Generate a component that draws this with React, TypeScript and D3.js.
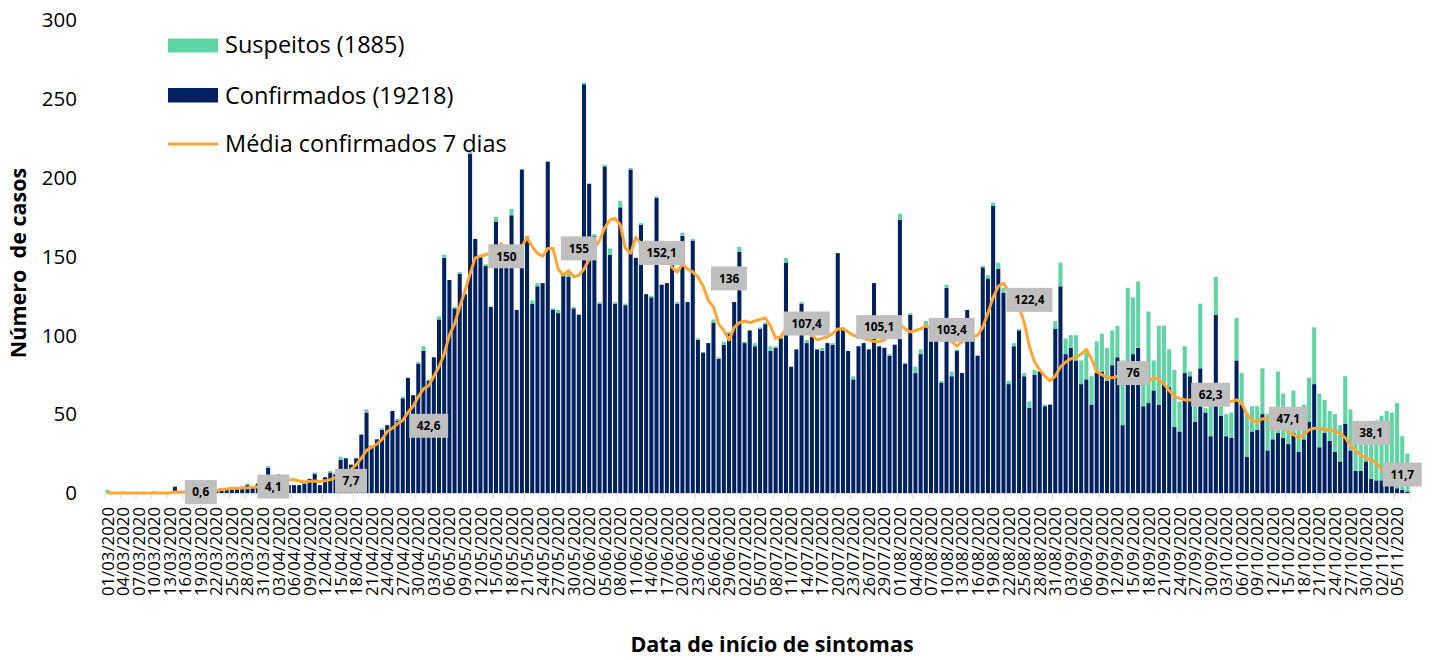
import React from 'react';
import * as d3 from 'd3';

// ---- data ----
const confirmed: number[] = [
  0, 0, 0, 0, 0, 0, 0, 0, 0, 0,
  0, 0, 0, 4, 0, 0, 0, 0, 0, 1,
  2, 2, 3, 2, 3, 3, 4, 5, 4, 6,
  5, 16, 5, 11, 6, 5, 5, 5, 6, 9,
  12, 5, 10, 13, 12, 21, 22, 18, 22, 37,
  51, 30, 34, 40, 43, 52, 46, 60, 73, 62,
  82, 90, 71, 86, 110, 149, 135, 117, 139, 126,
  215, 161, 150, 144, 118, 172, 150, 145, 176, 116,
  205, 162, 120, 131, 133, 210, 116, 114, 138, 137,
  117, 113, 259, 196, 163, 120, 207, 151, 120, 181,
  119, 205, 149, 170, 126, 124, 187, 132, 133, 150,
  120, 163, 121, 160, 97, 89, 95, 108, 85, 94,
  101, 121, 153, 95, 103, 93, 104, 107, 90, 92,
  98, 146, 80, 91, 120, 95, 99, 91, 90, 95,
  94, 152, 104, 90, 72, 93, 95, 91, 133, 93,
  92, 87, 94, 173, 82, 113, 76, 88, 106, 104,
  98, 70, 130, 74, 90, 76, 116, 100, 87, 143,
  136, 182, 142, 127, 69, 93, 103, 74, 54, 75,
  77, 55, 56, 104, 131, 88, 92, 84, 69, 72,
  56, 76, 77, 71, 81, 86, 43, 83, 88, 92,
  55, 57, 65, 56, 69, 67, 42, 39, 76, 74,
  45, 79, 51, 36, 113, 49, 36, 35, 84, 56,
  23, 39, 40, 50, 27, 34, 38, 35, 31, 38,
  26, 34, 45, 69, 29, 38, 33, 26, 20, 44,
  27, 14, 14, 20, 9, 8, 8, 6, 5, 3,
  2, 1,
];

const suspected: number[] = [
  2, 0, 0, 1, 0, 0, 0, 0, 0, 1,
  0, 0, 0, 0, 0, 0, 0, 0, 0, 0,
  0, 0, 0, 0, 1, 0, 0, 1, 0, 0,
  0, 1, 0, 1, 0, 0, 0, 0, 0, 0,
  1, 0, 0, 1, 0, 2, 0, 0, 0, 0,
  2, 0, 0, 1, 0, 0, 1, 1, 0, 0,
  1, 3, 1, 0, 2, 2, 0, 1, 1, 0,
  1, 0, 0, 1, 0, 3, 0, 0, 4, 0,
  0, 1, 2, 2, 0, 0, 1, 2, 0, 2,
  1, 0, 1, 0, 1, 1, 1, 4, 1, 4,
  1, 1, 0, 1, 0, 1, 1, 0, 0, 0,
  1, 2, 0, 1, 1, 0, 0, 2, 1, 2,
  1, 0, 3, 1, 0, 2, 1, 1, 3, 1,
  0, 3, 0, 0, 1, 2, 0, 0, 2, 0,
  1, 0, 1, 0, 2, 0, 0, 0, 0, 0,
  0, 1, 0, 4, 0, 1, 4, 3, 3, 0,
  0, 1, 2, 3, 1, 0, 0, 2, 0, 1,
  2, 2, 4, 3, 2, 2, 1, 2, 4, 3,
  0, 1, 0, 5, 15, 10, 8, 16, 15, 17,
  18, 20, 24, 21, 22, 20, 41, 47, 36, 42,
  20, 58, 19, 50, 37, 24, 36, 19, 17, 3,
  10, 41, 3, 19, 24, 6, 14, 16, 27, 20,
  28, 16, 15, 29, 23, 14, 39, 28, 22, 27,
  20, 22, 28, 36, 34, 21, 19, 24, 23, 30,
  26, 24, 20, 12, 28, 38, 41, 46, 46, 54,
  34, 24,
];

const movingAvg: number[] = [
  0, 0, 0, 0, 0, 0, 0, 0, 0, 0,
  0, 0, 0, 0.6, 0.6, 0.6, 0.6, 0.6, 0.6, 0.7,
  1.0, 1.6, 2.2, 2.5, 2.8, 3.0, 3.1, 3.3, 3.6, 3.9,
  4.1, 4.5, 5.2, 6.5, 7.5, 8.4, 8.5, 7.6, 7.0, 7.5,
  7.6, 7.3, 7.7, 8.5, 9.7, 11, 12.5, 15, 18, 22,
  27, 29, 31, 34, 39, 41, 44, 46, 51, 55,
  61, 66, 68, 74, 80, 88, 100, 107, 118, 128,
  139, 149, 150, 151, 152, 155, 158, 152, 151, 152,
  156, 162, 156, 152, 150, 155, 155, 142, 138, 141,
  137, 138, 142, 148, 155, 160, 168, 173, 174, 170,
  155, 152, 162, 158, 152, 150, 152, 152, 150, 143,
  140, 145, 142, 140, 137, 131, 122, 118, 107, 103,
  97, 105, 108, 109, 108, 109, 110, 111, 106, 98,
  99, 104, 107, 107, 106, 104, 100, 97, 98, 99,
  101, 104, 104, 102, 100, 99, 98, 97, 96, 96,
  97, 100, 104, 107, 104, 102, 103, 104, 106, 104,
  102, 100, 98, 96, 93, 96, 97, 99, 100, 105,
  114, 124, 131, 133, 128, 124, 118, 108, 93, 83,
  78, 74, 71, 74, 80, 83, 85, 86, 88, 91,
  85, 77, 75, 73, 73, 74, 75, 75, 76, 76,
  75, 71, 73, 72, 69, 65, 61, 60, 59, 59,
  59, 59, 59, 59, 58, 58, 58, 58, 59, 57,
  50, 46, 45, 47, 47, 45, 43, 41, 39, 37,
  35, 37, 40, 41, 41, 40, 40, 39, 38, 35,
  30, 27, 24, 22, 21, 19, 15, 12,
];

const labelIndex: number[] = [18, 32, 47, 62, 77, 91, 107, 120, 135, 149, 163, 178, 198, 213, 228, 244, 250];
const labelText: string[] = ['0,6', '4,1', '7,7', '42,6', '150', '155', '152,1', '136', '107,4', '105,1', '103,4', '122,4', '76', '62,3', '47,1', '38,1', '11,7'];

const yTicks: number[] = [0, 50, 100, 150, 200, 250, 300];

const legendItems: string[] = ['Suspeitos (1885)', 'Confirmados (19218)', 'Média confirmados 7 dias'];

const startDay = new Date(2020, 2, 1);
const endDay = new Date(2020, 10, 8);
const days: Date[] = d3.timeDay.range(startDay, endDay);
const fmt = d3.timeFormat('%d/%m/%Y');

// ---- style ----
const W = 1435;
const H = 660;
const GREEN = '#5fd4a5';
const NAVY = '#002060';
const ORANGE = '#ffa534';
const FONT = "'Open Sans', Lato, sans-serif";

export default function App() {
  const n = days.length;
  const x = d3.scaleBand<number>().domain(d3.range(n)).range([105, 1410]).paddingInner(0.22).paddingOuter(0.11);
  const y = d3.scaleLinear().domain([0, 300]).range([493, 19.6]);
  const bw = x.bandwidth();
  const step = x.step();
  const cx = (i: number) => (x(i) as number) + bw / 2;

  const line = d3.line<number>().x((_, i) => cx(i)).y((v) => y(v));

  const tickIdx = d3.range(0, n + 1, 3);

  return (
    <svg width={W} height={H} style={{ position: 'absolute', left: 0, top: 0, background: '#fff' }} fontFamily={FONT}>
      {/* bars */}
      <g>
        {confirmed.map((c, i) => (
          <rect key={'c' + i} x={x(i)} y={y(c)} width={bw} height={y(0) - y(c)} fill={NAVY} />
        ))}
        {suspected.map((s, i) =>
          s > 0 ? (
            <rect key={'s' + i} x={x(i)} y={y(confirmed[i] + s)} width={bw} height={y(confirmed[i]) - y(confirmed[i] + s)} fill={GREEN} />
          ) : null
        )}
      </g>
      {/* x axis */}
      <line x1={105} x2={1410} y1={493.5} y2={493.5} stroke="#d9d9d9" strokeWidth={1} />
      {tickIdx.map((k) => {
        const xx = 105 + k * step;
        return <line key={'t' + k} x1={xx} x2={xx} y1={493.5} y2={499} stroke="#d9d9d9" strokeWidth={1} />;
      })}
      {days.map((d, i) =>
        i % 3 === 0 ? (
          <text key={'xl' + i} transform={`translate(${cx(i)},507) rotate(-90)`} textAnchor="end" dy="0.36em" fontSize={16.8} fill="#000">
            {fmt(d)}
          </text>
        ) : null
      )}
      {/* y axis labels */}
      {yTicks.map((t) => (
        <text key={'y' + t} x={77} y={y(t)} dy="0.36em" textAnchor="end" fontSize={20.5} fill="#000">
          {t}
        </text>
      ))}
      {/* moving average */}
      <path d={line(movingAvg) || ''} fill="none" stroke={ORANGE} strokeWidth={3} strokeLinejoin="round" />
      {/* data labels */}
      {labelIndex.map((li, k) => {
        const t = labelText[k];
        const v = parseFloat(t.replace(',', '.'));
        const digits = t.replace(',', '').length;
        const w = Math.max(32, digits * 7 + (t.includes(',') ? 3 : 0) + 15);
        const bx = cx(li);
        const by = y(v);
        return (
          <g key={'lb' + k}>
            <rect x={bx - w / 2} y={by - 12} width={w} height={24} fill="#bfbfbf" />
            <text x={bx} y={by} dy="0.36em" textAnchor="middle" fontSize={11.8} fontWeight={700} fill="#000">
              {t}
            </text>
          </g>
        );
      })}
      {/* legend */}
      <rect x={168} y={38.5} width={50} height={14} fill={GREEN} />
      <text x={225} y={45} dy="0.36em" fontSize={23.5} fill="#000">{legendItems[0]}</text>
      <rect x={168} y={88} width={50} height={14.5} fill={NAVY} />
      <text x={225} y={95.5} dy="0.36em" fontSize={23.5} fill="#000">{legendItems[1]}</text>
      <line x1={168} x2={218} y1={144} y2={144} stroke={ORANGE} strokeWidth={3} />
      <text x={225} y={143.5} dy="0.36em" fontSize={23.5} fill="#000">{legendItems[2]}</text>
      {/* axis titles */}
      <text transform="translate(26,263) rotate(-90)" textAnchor="middle" fontSize={21.5} fontWeight={700} fill="#000" style={{ whiteSpace: 'pre' }}>
        {'Número  de casos'}
      </text>
      <text x={772} y={652} textAnchor="middle" fontSize={21.5} fontWeight={700} fill="#000">
        Data de início de sintomas
      </text>
    </svg>
  );
}
